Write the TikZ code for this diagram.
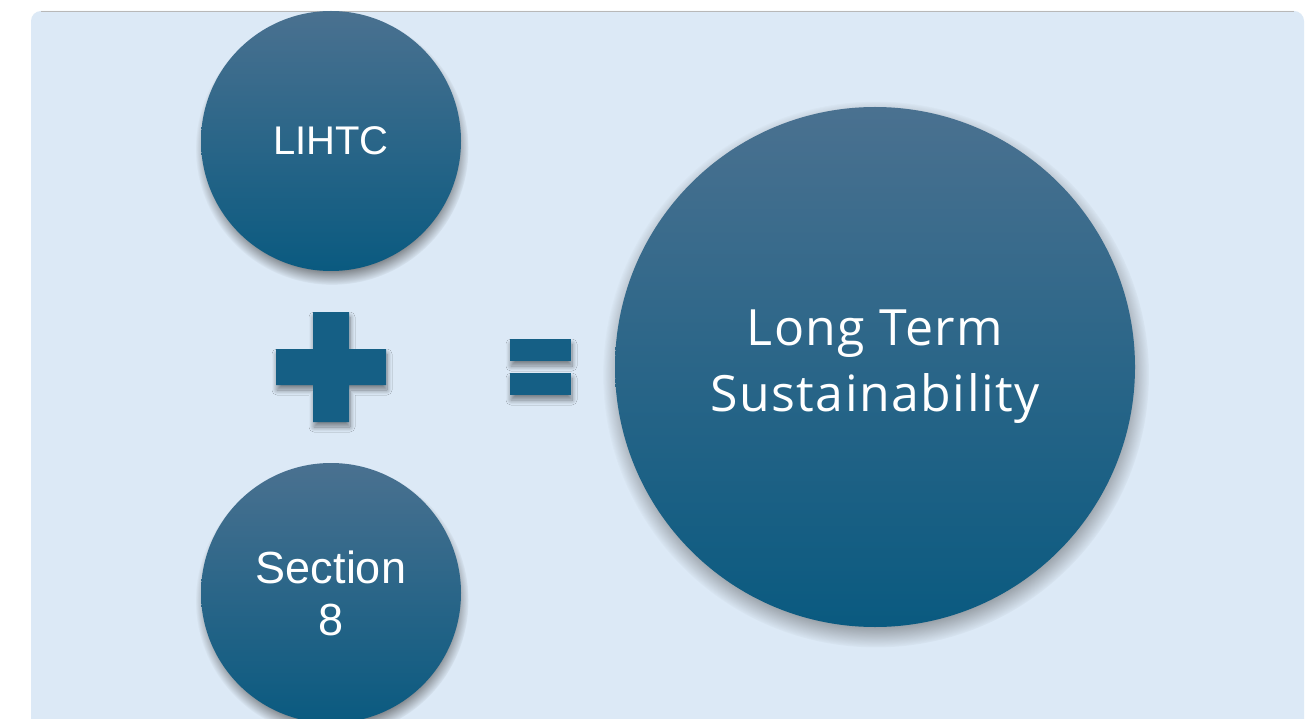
\documentclass[tikz,border=0pt]{standalone}
\usepackage{fontspec}
\setmainfont{Liberation Sans}
\newfontfamily\widefont[LetterSpace=3]{Open Sans}
\usepackage{tikz}
\usetikzlibrary{calc, shadows, shadows.blur}

\definecolor{bgblue}{HTML}{DCE9F6}
\definecolor{disctop}{HTML}{4A7190}
\definecolor{discmid}{HTML}{1E6289}
\definecolor{discbot}{HTML}{0A5A80}
\definecolor{signblue}{HTML}{155F85}

\tikzset{
  discshadow/.style={circular drop shadow={shadow xshift=1pt, shadow yshift=-7pt, shadow scale=1.05, fill=black!75, opacity=0.8}},
  disc/.style={circle, minimum size=#1, inner sep=0pt, top color=disctop, middle color=discmid, bottom color=discbot, text=white, align=center, discshadow},
  sign/.style={fill=signblue, blur shadow={shadow xshift=1pt, shadow yshift=-5pt, shadow blur radius=5pt, shadow blur steps=10, shadow opacity=45}}
}

\begin{document}
\begin{tikzpicture}[x=1pt, y=-1pt]
               \clip (0,0) rectangle (1314,719);
               \fill[white] (0,0) rectangle (1314,719);
               \fill[bgblue, rounded corners=10] (31,11) rectangle (1304,760);
               \draw[black!28, line width=0.8pt] (41,11)--(1294,11);
               % discs
               \node[disc=260pt, font=\fontsize{40}{50}\selectfont] (lihtc) at (331,141) {LIHTC};
               \node[disc=260pt, font=\fontsize{45}{52}\selectfont] (sec8) at (331,593) {Section\\8};
               \node[disc=520pt, font=\widefont\fontsize{50}{66}\selectfont] (lts) at (875,367) {Long Term\\Sustainability};
               % plus and equals
               \coordinate (plus) at ($(lihtc)!0.5!(sec8)$);
               \fill[sign] ($(plus)+(-18,-55)$) -- ++(36,0) -- ++(0,37) -- ++(37,0) -- ++(0,36) -- ++(-37,0)
                    -- ++(0,37) -- ++(-36,0) -- ++(0,-37) -- ++(-37,0) -- ++(0,-36) -- ++(37,0) -- cycle;
               \coordinate (eq) at (540,367);
               \fill[sign] ($(eq)+(-30,-28)$) rectangle ($(eq)+(31,-6)$);
               \fill[sign] ($(eq)+(-30,6)$) rectangle ($(eq)+(31,28)$);
\end{tikzpicture}
\end{document}
